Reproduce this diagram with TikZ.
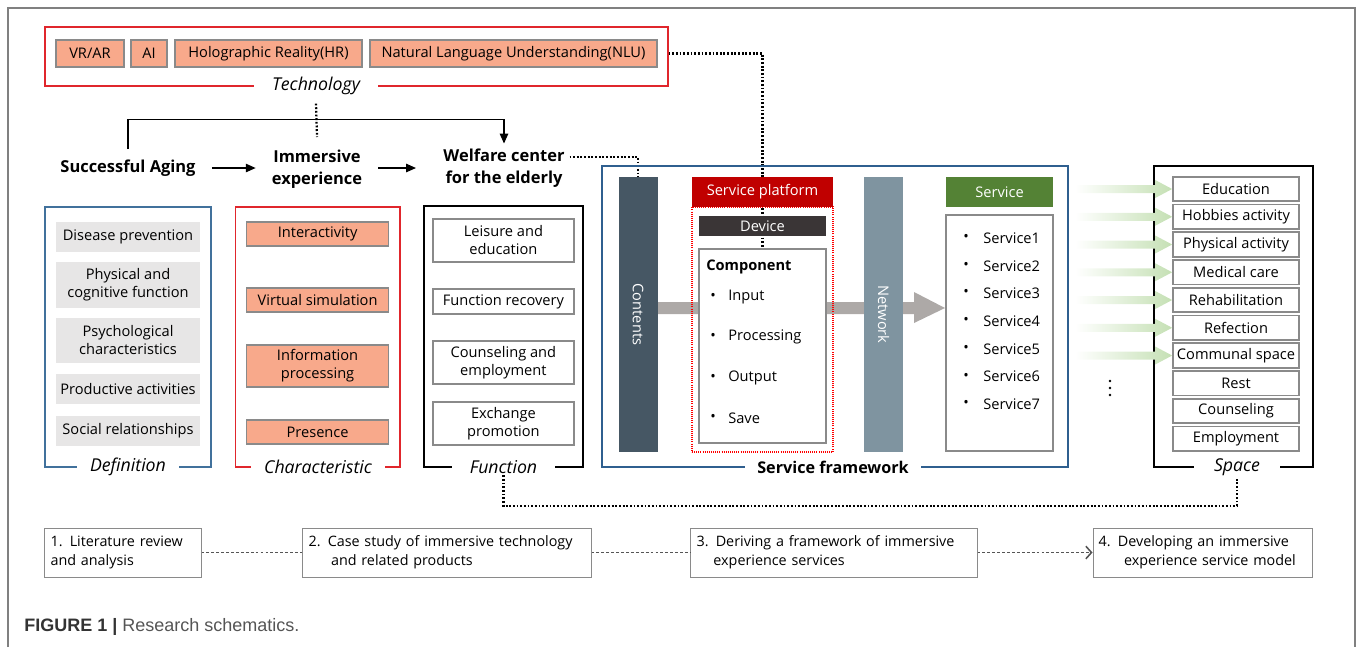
\documentclass[tikz,border=0pt]{standalone}
\usepackage{fontspec}
\setmainfont{Open Sans}
\newfontfamily\capfont{Liberation Sans}
\usetikzlibrary{arrows.meta,positioning,calc,backgrounds}
\definecolor{FrameGray}{HTML}{808080}
\definecolor{TechRed}{HTML}{E0262C}
\definecolor{Salmon}{HTML}{F8A98B}
\definecolor{BoxGray}{HTML}{8A8A8A}
\definecolor{DefBlue}{HTML}{41719C}
\definecolor{ItemGray}{HTML}{E7E6E6}
\definecolor{FrameBlue}{HTML}{2F5F8F}
\definecolor{ContentsSlate}{HTML}{465764}
\definecolor{NetworkSlate}{HTML}{7F94A0}
\definecolor{PlatformRed}{HTML}{C00000}
\definecolor{DeviceDark}{HTML}{3A3536}
\definecolor{ServiceGreen}{HTML}{548235}
\definecolor{ArrowGray}{HTML}{ADA9A7}
\definecolor{SpaceGreen}{HTML}{C5E0B4}
\definecolor{StepGray}{HTML}{555555}
\definecolor{CapDark}{HTML}{333333}
\definecolor{CapGray}{HTML}{555555}
\newcommand{\figbody}{\fontsize{10.4}{12.8}\selectfont}
\newcommand{\figlabel}{\fontsize{12.6}{14}\selectfont\itshape}
\newcommand{\fighead}{\fontsize{11.7}{16}\selectfont\bfseries}
\newcommand{\figstep}{\fontsize{10.2}{13.5}\selectfont}
\tikzset{
  sz/.style 2 args={minimum width=#1*0.025cm, minimum height=#2*0.025cm},
  techbox/.style={draw=BoxGray, fill=Salmon, line width=1.2pt, inner sep=0pt, font=\figbody},
  defbox/.style={fill=ItemGray, inner sep=0pt, align=center, font=\figbody},
  charbox/.style={draw=BoxGray, fill=Salmon, line width=1.2pt, inner sep=0pt, align=center, font=\figbody},
  funcbox/.style={draw=BoxGray, fill=white, line width=1.2pt, inner sep=0pt, align=center, font=\figbody},
  groupframe/.style={line width=1.2pt, inner sep=0pt},
  grouplabel/.style={fill=white, inner xsep=9pt, inner ysep=1pt, font=\figlabel},
  headtext/.style={align=center, font=\fighead},
  barbox/.style={inner sep=0pt},
  bartext/.style={text=white, inner sep=0pt, font=\figbody},
  itemtext/.style={inner sep=0pt, anchor=west, font=\figbody},
  flow/.style={-{Triangle[length=7pt,width=6pt]}, line width=0.9pt, shorten <=8pt, shorten >=8pt},
  bracketline/.style={-{Triangle[length=7pt,width=6pt]}, line width=0.9pt},
  dotline/.style={line width=1.6pt, dash pattern=on 1.3pt off 1.3pt},
  stepbox/.style={draw=BoxGray, line width=0.7pt, align=left, inner xsep=4pt, font=\figstep},
  stepline/.style={draw=StepGray, line width=1.1pt, dash pattern=on 2pt off 1.5pt},
  greenflow/.style={left color=white, right color=SpaceGreen}
}
\begin{document}
\begin{tikzpicture}[x=0.025cm, y=-0.025cm]
  \useasboundingbox (0,0) rectangle (1358,647);
  \draw[FrameGray, line width=1pt] (8,647) -- (8,8) -- (1355,8) -- (1355,647);

  % technology row
  \node[groupframe, draw=TechRed, sz={623}{59}] (techf) at (356.3,56.5) {};
  \node[techbox, sz={68}{27}] (vrar) at (90,53.5) {VR/AR};
  \node[techbox, sz={36}{27}] (ai) at (149,53.5) {AI};
  \node[techbox, sz={187}{27}] (hr) at (268.5,53.5) {Holographic Reality(HR)};
  \node[techbox, sz={287}{27}] (nlu) at (513.5,53.5) {Natural Language Understanding(NLU)};
  \node[grouplabel, inner xsep=13pt] (techlbl) at (316,86) {Technology};
  \coordinate (techdrop) at (317,137);

  % concept chain
  \node[headtext] (aging) at (128,168) {Successful Aging};
  \node[headtext] (immersive) at (317,169) {Immersive\\experience};
  \node[headtext] (welfare) at (504,168) {Welfare center\\for the elderly};
  \draw[flow] (aging.east) -- (immersive.west |- aging.east);
  \draw[flow, shorten >=16pt] (immersive.east |- aging.east) -- (welfare.west |- aging.east);
  \draw[bracketline] ([yshift=4pt]aging.north) -- ++(0,-30) -| (welfare.north);
  \draw[dotline] ([yshift=-5pt]techlbl.south) -- (techdrop);

  % definition
  \node[groupframe, draw=DefBlue, sz={166}{260}] (deff) at (127.8,336.9) {};
  \node[defbox, sz={144}{30}] (d1) at (128,237) {Disease prevention};
  \node[defbox, sz={144}{46}] (d2) at (128,285) {Physical and\\cognitive function};
  \node[defbox, sz={144}{45}] (d3) at (128,340.5) {Psychological\\characteristics};
  \node[defbox, sz={144}{30}] (d4) at (128,389) {Productive activities};
  \node[defbox, sz={144}{30}] (d5) at (128,431) {Social relationships};
  \node[grouplabel] (deflbl) at (128,467) {Definition};

  % characteristic
  \node[groupframe, draw=TechRed, sz={164.5}{260}] (charf) at (317.8,336.9) {};
  \node[charbox, sz={142}{24}] (c1) at (317.6,234) {Interactivity};
  \node[charbox, sz={142}{24}] (c2) at (317.6,300) {Virtual simulation};
  \node[charbox, sz={142}{42}] (c3) at (317.6,366) {Information\\processing};
  \node[charbox, sz={142}{24}] (c4) at (317.6,432) {Presence};
  \node[grouplabel] (charlbl) at (318,467) {Characteristic};

  % function
  \node[groupframe, draw=black, sz={159.3}{261}] (funcf) at (503.4,336.5) {};
  \node[funcbox, sz={140.5}{43}] (f1) at (503.4,240.5) {Leisure and\\education};
  \node[funcbox, sz={140.5}{25}] (f2) at (503.4,301.5) {Function recovery};
  \node[funcbox, sz={140.5}{43}] (f3) at (503.4,362.5) {Counseling and\\employment};
  \node[funcbox, sz={140.5}{43}] (f4) at (503.4,423.5) {Exchange\\promotion};
  \node[grouplabel, inner xsep=13pt] (funclbl) at (503.5,467) {Function};

  % service framework
  \node[groupframe, draw=FrameBlue, sz={466}{301}] (sfw) at (835,316.5) {};
  \node[barbox, fill=ContentsSlate, sz={39}{275}] (contents) at (638,314.5) {};
  \node[bartext, rotate=-90] (contentslbl) at (contents) {Contents};
  \node[barbox, fill=NetworkSlate, sz={39}{275}] (network) at (883.5,314.5) {};
  \node[bartext, rotate=-90] (networklbl) at (network) {Network};
  \node[barbox, draw=red, line width=0.8pt, dash pattern=on 0.7pt off 0.8pt, sz={141}{245}] (spframe) at (762.5,329.5) {};
  \node[barbox, fill=PlatformRed, text=white, font=\figbody, sz={141}{30}] (sphead) at (762.5,192) {Service platform};
  \node[barbox, fill=DeviceDark, text=white, font=\figbody, sz={127}{20}] (device) at (762.5,226) {Device};
  \node[funcbox, sz={127}{194}] (comp) at (762.5,346) {};
  \node[itemtext, font=\figbody\bfseries] (complbl) at (706,267) {Component};
  \foreach \part [count=\i from 0] in {Input,Processing,Output,Save}{
    \node[inner sep=0pt, font=\figbody] (cb\i) at (713,{297+40.3*\i}) {\textbullet};
    \node[itemtext] (ct\i) at (728,{297+40.3*\i}) {\part};
  }
  \node[barbox, fill=ServiceGreen, text=white, font=\figbody, sz={107}{30}] (svhead) at (999.5,192) {Service};
  \node[funcbox, sz={107}{236}] (svlist) at (999.5,333) {};
  \foreach \k [count=\i from 0] in {1,...,7}{
    \node[inner sep=0pt, font=\figbody] (sb\k) at (966,{238+27.7*\i}) {\textbullet};
    \node[itemtext] (st\k) at (983,{238+27.7*\i}) {Service\k};
  }
  \node[grouplabel, font=\fontsize{11.5}{14}\selectfont\bfseries] (sfwlbl) at (833,467) {Service framework};

  % space
  \node[groupframe, draw=black, sz={159}{301}] (spcf) at (1233.5,316.5) {};
  \foreach \room [count=\i from 0] in {Education,Hobbies activity,Physical activity,Medical care,Rehabilitation,Refection,Communal space,Rest,Counseling,Employment}{
    \node[funcbox, sz={126}{24.5}] (sp\i) at (1236,{189+27.75*\i}) {\room};
  }
  \foreach \i in {0,...,6}{
    \shade[greenflow] (sp\i.west) -- ++(-17,-9) -- ++(0,5) -- ++(-80,0) -- ++(0,8) -- ++(80,0) -- ++(0,5) -- cycle;
  }
  \foreach \i in {0,1,2}{
    \fill (1110,{381+7*\i}) circle (1.3);
  }
  \node[grouplabel, inner xsep=14pt] (spclbl) at (1237,467) {Space};
  \coordinate (loopy) at (0,506);

  % links behind the boxes
  \begin{scope}[on background layer]
    \draw[dotline] (techf.east |- nlu.east) -| (comp.north);
    \draw[dotline] ($(welfare.east)+(0,-11)$) -| (contents.north);
    \fill[ArrowGray] (contents.east |- 0,302) -- (914,302) -- (914,292) -- (945,308)
      -- (914,323) -- (914,314) -- (contents.east |- 0,314) -- cycle;
  \end{scope}
  \draw[dotline] (funclbl.south) |- (spclbl.south |- loopy) -- (spclbl.south);

  % research steps
  \node[stepbox, sz={156}{49}, text width=3.62cm] (step1) at (123,552.5) {1. Literature review\\and analysis};
  \node[stepbox, sz={288}{49}, text width=6.92cm] (step2) at (447,552.5) {2. Case study of immersive technology\\\hspace*{16pt}and related products};
  \node[stepbox, sz={286}{49}, text width=6.87cm] (step3) at (834,552.5) {3. Deriving a framework of immersive\\\hspace*{12pt}experience services};
  \node[stepbox, sz={219}{49}, text width=5.19cm] (step4) at (1202.5,552.5) {4. Developing an immersive\\\hspace*{18pt}experience service model};
  \draw[stepline] (step1) -- (step2);
  \draw[stepline] (step2) -- (step3);
  \draw[stepline, -{Straight Barb[length=4pt,width=9pt]}] (step3) -- (step4);

  \node[anchor=west, inner sep=0pt, font=\capfont\fontsize{12.8}{15}\selectfont] (caption) at (24,627)
    {\textbf{\color{CapDark}FIGURE 1 |} {\color{CapGray}Research schematics.}};
\end{tikzpicture}
\end{document}
